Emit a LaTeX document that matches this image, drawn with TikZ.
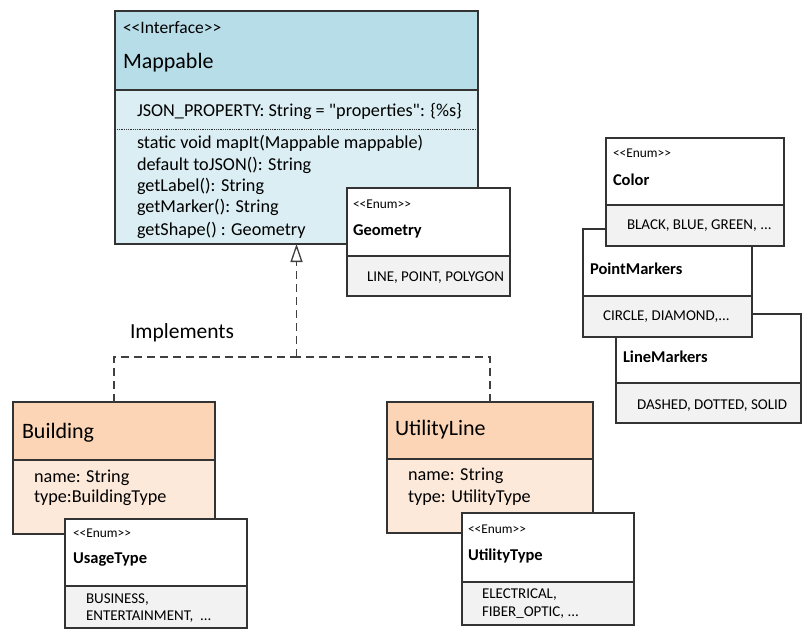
\documentclass[tikz,border=0pt]{standalone}
\usepackage{fontspec}
\setmainfont{Carlito}[Ligatures=TeXOff]
\usetikzlibrary{arrows.meta}
\definecolor{hdrblue}{HTML}{B7DDE8}
\definecolor{bodyblue}{HTML}{DAEEF3}
\definecolor{hdrorange}{HTML}{FBD5B5}
\definecolor{bodyorange}{HTML}{FDE9D9}
\definecolor{enumgray}{HTML}{F2F2F2}
\definecolor{edgegray}{HTML}{333333}
\definecolor{linkgray}{HTML}{404040}
\newcommand\sopen{<\kern0pt<}
\newcommand\sclose{>\kern0pt>}
\tikzset{
  comp/.style={draw=edgegray, line width=1.3pt, rectangle, inner sep=0pt, outer sep=0pt, anchor=north west},
  txt/.style={anchor=base west, inner sep=0pt, outer sep=0pt, text=black},
  bigname/.style={txt, font=\fontsize{22}{26}\selectfont},
  stereo/.style={txt, font=\fontsize{17.5}{20}\selectfont},
  member/.style={txt, font=\fontsize{18.2}{21}\selectfont},
  enumst/.style={txt, font=\fontsize{13.4}{16}\selectfont},
  enumname/.style={txt, font=\fontsize{16.5}{19}\selectfont\bfseries},
  enumval/.style={txt, font=\fontsize{15}{18}\selectfont},
  realize/.style={draw=linkgray, line width=1.5pt, dash pattern=on 8pt off 5pt},
}
\newcommand\compart[6]{\node[comp, fill=#6, minimum width={(#4-#2)*1pt}, minimum height={(#5-#3)*1pt}] (#1) at (#2,#3) {};}
\begin{document}
\begin{tikzpicture}[x=1pt,y=-1pt]
\useasboundingbox[fill=white] (0,0) rectangle (803,629);
% Mappable
\compart{maph}{115}{11}{478}{90}{hdrblue}
\compart{mapb}{115}{90}{478}{244}{bodyblue}
\draw[edgegray, line width=0.9pt, dash pattern=on 1pt off 0.8pt] (117,129) -- (476,129);
\node[stereo] (mapst) at (123,33) {\sopen Interface\sclose};
\node[bigname] (mapname) at (123,68) {Mappable};
\node[member] (m1) at (137,116) {JSON\_PROPERTY: String = "properties": \{\%s\}};
\node[member] (m2) at (137,148) {static void mapIt(Mappable mappable)};
\node[member] (m3) at (137,170) {default toJSON(): String};
\node[member] (m4) at (137,191) {getLabel(): String};
\node[member] (m5) at (137,212) {getMarker(): String};
\node[member] (m6) at (137,235) {getShape() : Geometry};
% Geometry
\compart{geoh}{347}{188}{510}{256}{white}
\compart{geob}{347}{256}{510}{296}{enumgray}
\node[enumst] (geost) at (353,208) {\sopen Enum\sclose};
\node[enumname] (geoname) at (353,235) {Geometry};
\node[enumval] (geov) at (367,281) {LINE, POINT, POLYGON};
% LineMarkers
\compart{lmh}{616}{314}{801}{383}{white}
\compart{lmb}{616}{383}{801}{423}{enumgray}
\node[enumname] (lmname) at (623,362) {LineMarkers};
\node[enumval] (lmv) at (637,409) {DASHED, DOTTED, SOLID};
% PointMarkers
\compart{pmh}{583}{229}{752}{296}{white}
\compart{pmb}{583}{296}{752}{337}{enumgray}
\node[enumname] (pmname) at (590,274) {PointMarkers};
\node[enumval] (pmv) at (603,320) {CIRCLE, DIAMOND,...};
% Color
\compart{colh}{606}{138}{784}{205}{white}
\compart{colb}{606}{205}{784}{246}{enumgray}
\node[enumst] (colst) at (613,157) {\sopen Enum\sclose};
\node[enumname] (colname) at (613,185) {Color};
\node[enumval] (colv) at (627,229) {BLACK, BLUE, GREEN, ...};
% Building
\compart{buih}{13}{402}{215}{460}{hdrorange}
\compart{buib}{13}{460}{215}{534}{bodyorange}
\node[bigname] (buiname) at (22,438) {Building};
\node[member] (b1) at (34,482) {name: String};
\node[member] (b2) at (34,502) {type:BuildingType};
% UsageType
\compart{ush}{65}{519}{247}{586}{white}
\compart{usb}{65}{586}{247}{628}{enumgray}
\node[enumst] (usst) at (73,537) {\sopen Enum\sclose};
\node[enumname] (usname) at (73,563) {UsageType};
\node[enumval] (usv1) at (86,603) {BUSINESS,};
\node[enumval] (usv2) at (86,620) {ENTERTAINMENT, \ ...};
% UtilityLine
\compart{utlh}{387}{402}{593}{459}{hdrorange}
\compart{utlb}{387}{459}{593}{533}{bodyorange}
\node[bigname] (utlname) at (395,435) {UtilityLine};
\node[member] (u1) at (408,480) {name: String};
\node[member] (u2) at (408,502) {type: UtilityType};
% UtilityType
\compart{utth}{462}{513}{634}{582}{white}
\compart{uttb}{462}{582}{634}{625}{enumgray}
\node[enumst] (uttst) at (468,533) {\sopen Enum\sclose};
\node[enumname] (uttname) at (468,560) {UtilityType};
\node[enumval] (uttv1) at (482,598) {ELECTRICAL,};
\node[enumval] (uttv2) at (482,616) {FIBER\_OPTIC, ...};
% Realization
\coordinate (join) at (296.5,357);
\draw[realize] (buih.north) |- (join);
\draw[realize] (utlh.north) |- (join);
\draw[realize, -{Triangle[open, length=18pt, width=12pt, line width=1.3pt]}] (join) -- (mapb.south);
\node[txt, font=\fontsize{21.5}{25}\selectfont] (impl) at (130,338) {Implements};
\end{tikzpicture}
\end{document}
